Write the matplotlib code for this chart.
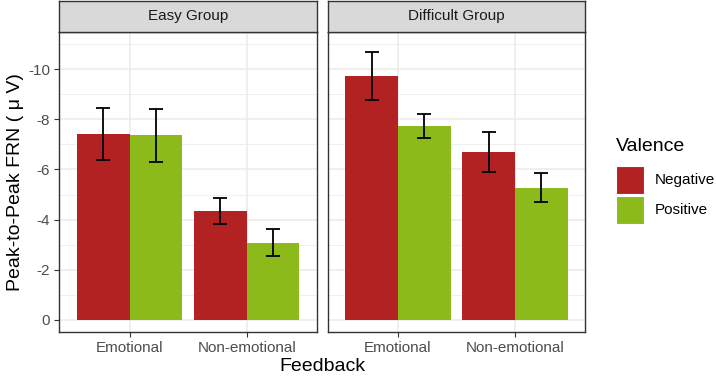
import numpy as np
import matplotlib.pyplot as plt
from matplotlib.patches import Rectangle

groups = ['Easy Group', 'Difficult Group']
feedback = ['Emotional', 'Non-emotional']
valence = ['Negative', 'Positive']
colors = ['#B22222', '#8BBA1A']

# mean FRN per group -> [feedback][valence]
means = {
    'Easy Group': [[-7.41, -7.36], [-4.35, -3.08]],
    'Difficult Group': [[-9.72, -7.73], [-6.69, -5.28]],
}
errs = {
    'Easy Group': [[1.03, 1.06], [0.52, 0.53]],
    'Difficult Group': [[0.96, 0.48], [0.79, 0.57]],
}

plt.rcParams['font.family'] = 'Liberation Sans'
fig = plt.figure(figsize=(7.16, 3.76), dpi=100)

bottom, top = 0.1162, 0.9157
strip_h = 0.0816
lefts = [0.0828, 0.4577]
width = 0.3599
dark = '#333333'
x = np.arange(1, len(feedback) + 1)
bw = 0.45

for gi, g in enumerate(groups):
    ax = fig.add_axes([lefts[gi], bottom, width, top - bottom])
    ax.set_facecolor('white')
    for vi, v in enumerate(valence):
        m = np.array([means[g][f][vi] for f in range(len(feedback))])
        e = np.array([errs[g][f][vi] for f in range(len(feedback))])
        xs = x + (vi - 0.5) * bw
        ax.bar(xs, m, width=bw, color=colors[vi], zorder=2, label=v)
        ax.errorbar(xs, m, yerr=e, fmt='none', ecolor='black', elinewidth=1.3,
                    capsize=4.9, capthick=1.3, zorder=3)
    ax.set_xlim(0.4, 2.6)
    ax.set_ylim(0.51, -11.51)
    ax.set_yticks([0, -2, -4, -6, -8, -10])
    ax.set_yticks([-1, -3, -5, -7, -9, -11], minor=True)
    ax.set_xticks(x)
    ax.set_xticklabels(feedback)
    ax.grid(True, which='major', color='#EBEBEB', lw=1.1, zorder=0)
    ax.grid(True, which='minor', axis='y', color='#EBEBEB', lw=0.55, zorder=0)
    ax.set_axisbelow(True)
    for s in ax.spines.values():
        s.set_color(dark)
        s.set_linewidth(1.0)
    ax.tick_params(which='major', length=3.5, color=dark, labelsize=11,
                   labelcolor='#4D4D4D', pad=3)
    ax.tick_params(which='minor', length=0)
    if gi == 0:
        ax.set_yticklabels(['0', '-2', '-4', '-6', '-8', '-10'])
    else:
        ax.tick_params(axis='y', left=False, labelleft=False)
    # facet strip
    sax = fig.add_axes([lefts[gi], top, width, strip_h])
    sax.set_xticks([]); sax.set_yticks([])
    sax.set_facecolor('#D9D9D9')
    for s in sax.spines.values():
        s.set_color(dark)
        s.set_linewidth(1.0)
    sax.text(0.5, 0.5, g, ha='center', va='center', fontsize=11,
             color='#1A1A1A', transform=sax.transAxes)

fig.text(0.021, (bottom + top) / 2, 'Peak-to-Peak FRN ( \u03bc V)', rotation=90,
         ha='center', va='center', fontsize=14)
fig.text(0.451, 0.025, 'Feedback', ha='center', va='center', fontsize=14)

# legend
fig.text(0.860, 0.610, 'Valence', ha='left', va='center', fontsize=14)
kx, kw, kh = 616 / 716, 28 / 716, 28 / 376
for vi, v in enumerate(valence):
    ky = 1 - (194 + vi * 29.5) / 376
    fig.patches.append(Rectangle((kx, ky), kw, kh, transform=fig.transFigure,
                                 facecolor=colors[vi], edgecolor='white', lw=0.8))
    fig.text(655 / 716, ky + kh / 2, v, ha='left', va='center', fontsize=11)

fig.savefig('out.png', dpi=100)
